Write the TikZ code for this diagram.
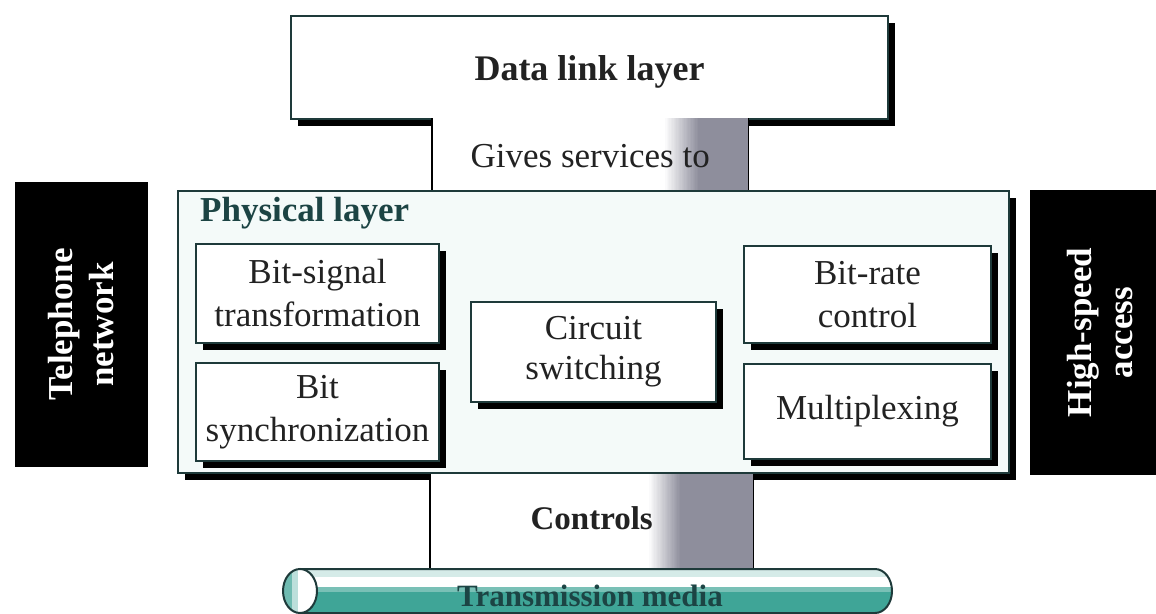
\documentclass[tikz,border=0pt]{standalone}
\usepackage{fontspec}
\setmainfont{Liberation Serif}
\usetikzlibrary{shadows,calc}
\definecolor{edge}{HTML}{1E3A3A}
\definecolor{physfill}{HTML}{F4FAF9}
\definecolor{mediateal}{HTML}{3FA597}
\definecolor{titleteal}{HTML}{1C4444}
\definecolor{linkgray}{HTML}{8E8E9C}
\definecolor{inktext}{HTML}{222222}

% white-to-gray fade in thin strips: #1 left x, #2 right x, #3 top y, #4 bottom y
\newcommand\linkfade[4]{%
  \foreach \k in {0,...,24}{%
    \pgfmathsetmacro\pct{4*\k}%
    \fill[linkgray!\pct!white] ({#1+(#2-#1)*\k/25},#3) rectangle ({#1+(#2-#1)*(\k+1)/25+0.6},#4);
  }}

\tikzset{
  big/.style={font=\fontsize{35}{43}\selectfont, text=inktext},
  shadowed/.style={drop shadow={shadow xshift=7pt,shadow yshift=-7pt,fill=black,opacity=1}},
  func/.style={draw=edge, line width=2pt, fill=white, anchor=north west,
    inner sep=0pt, align=center, big, shadowed},
  side/.style={fill=black, text=white, inner sep=0pt, align=center, rotate=90,
    font=\fontsize{35}{41}\selectfont\bfseries},
  link/.style={anchor=north west, inner sep=0pt, fill=white},
  linkside/.style={line width=1.6pt, draw=black},
}

\begin{document}
\begin{tikzpicture}[x=1pt,y=-1pt]
\useasboundingbox[fill=white] (0,0) rectangle (1156,613);

% upper layer
\node[func, minimum width=597pt, minimum height=103pt] (dll) at (290,15) {};
\node[font=\fontsize{36}{43}\selectfont\bfseries, text=inktext, inner sep=0pt]
  (dlltext) at ($(dll.center)+(0,4)$) {Data link layer};

% service link between the layers
\node[link, minimum width=316pt, minimum height=72pt] (gives) at (432,118) {};
\linkfade{664}{698}{118}{190}
\fill[linkgray] (698,118) rectangle (748,190);
\draw[linkside] (gives.north west) -- (gives.south west) (gives.north east) -- (gives.south east);
\node[big, inner sep=0pt] (givestext) at ($(gives.center)+(0,2)$) {Gives services to};

% physical layer frame
\node[draw=edge, line width=2pt, fill=physfill, anchor=north west, inner sep=0pt,
  minimum width=831pt, minimum height=282pt, shadowed] (phys) at (177,190) {};
\node[anchor=west, inner sep=0pt, font=\fontsize{35}{43}\selectfont\bfseries, text=titleteal]
  (phystitle) at (200,213) {Physical layer};

% control link down to the medium
\node[link, minimum width=323pt, minimum height=96pt] (controls) at (430,474) {};
\linkfade{648}{680}{474}{570}
\fill[linkgray] (680,474) rectangle (753,570);
\draw[linkside] (controls.north west) -- (controls.south west) (controls.north east) -- (controls.south east);
\node[font=\fontsize{33}{40}\selectfont\bfseries, text=inktext, inner sep=0pt]
  (controlstext) at ($(controls.center)+(0,-4)$) {Controls};

% side panels
\node[side, minimum width=285pt, minimum height=133pt] (tel) at (81.5,324.5) {Telephone\\network};
\node[side, minimum width=285pt, minimum height=126pt] (hsa) at (1093,332.5) {};
\node[side, fill=none, inner sep=0pt] (hsatext) at (1100,332.5) {High-speed\\access};

% physical layer functions
\node[func, minimum width=243pt, minimum height=99pt] (bsig)  at (195,243) {Bit-signal\\transformation};
\node[func, minimum width=243pt, minimum height=98pt] (bsync) at (195,362) {Bit\\synchronization};
\node[func, minimum width=245pt, minimum height=100pt, font=\fontsize{35}{40}\selectfont] (circ) at (470,301) {Circuit\\switching};
\node[func, minimum width=247pt, minimum height=97pt] (brate) at (743,245) {Bit-rate\\control};
\node[func, minimum width=247pt, minimum height=95pt] (mux)   at (743,363) {Multiplexing};

% transmission medium as a horizontal cylinder
\begin{scope}
  \path[clip] (300,569) -- (875,569) arc (-90:90:17 and 22) -- (300,613) arc (90:270:17 and 22) -- cycle;
  \fill[white] (280,560) rectangle (900,613);
  \fill[mediateal!22] (280,569) rectangle (900,577);
  \fill[mediateal!70] (280,587) rectangle (900,592);
  \fill[mediateal] (280,592) rectangle (900,613);
\end{scope}
\draw[edge, line width=2pt] (300,569) -- (875,569) arc (-90:90:17 and 22) -- (300,613);
\begin{scope}
  \clip (300,591) ellipse [x radius=17, y radius=22];
  \fill[white] (280,565) rectangle (320,615);
  \fill[mediateal!75] (280,565) rectangle (292,615);
  \fill[mediateal!35] (292,565) rectangle (298,615);
\end{scope}
\draw[edge, line width=2pt] (300,591) ellipse [x radius=17, y radius=22];
\node[inner sep=0pt, font=\fontsize{31}{38}\selectfont\bfseries, text=titleteal]
  (media) at (590,596) {Transmission media};
\end{tikzpicture}
\end{document}
